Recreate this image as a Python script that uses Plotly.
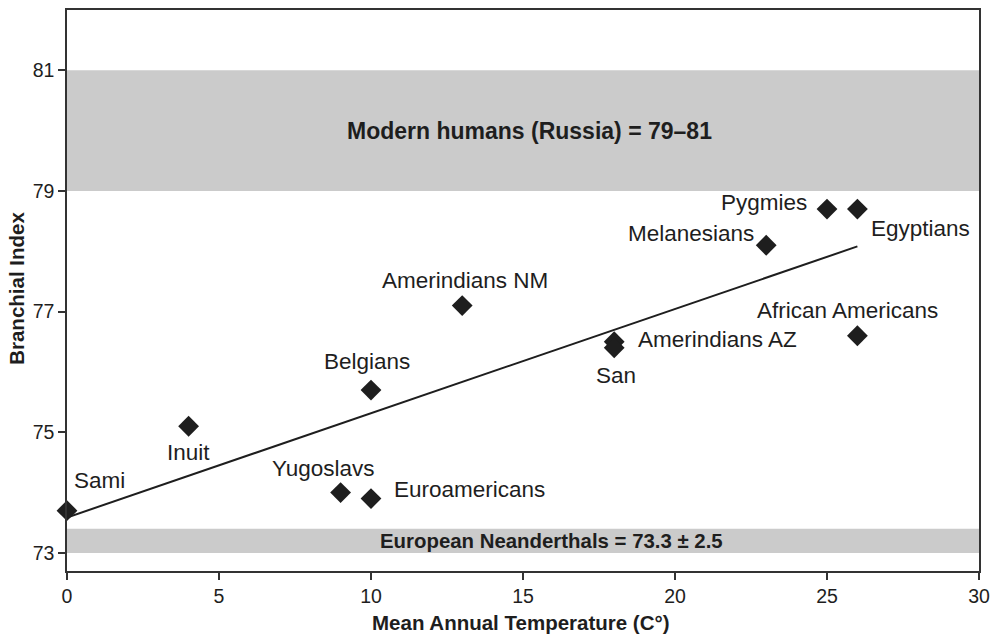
import numpy as np
import plotly.graph_objects as go

# ---- data ----
groups = ["Sami", "Inuit", "Yugoslavs", "Euroamericans", "Belgians", "Amerindians NM",
          "Amerindians AZ", "San", "Melanesians", "Pygmies", "Egyptians", "African Americans"]
temps = [0, 4, 9, 10, 10, 13, 18, 18, 23, 25, 26, 26]
branchial = [73.7, 75.1, 74.0, 73.9, 75.7, 77.1, 76.5, 76.4, 78.1, 78.7, 78.7, 76.6]

modern_band = [79, 81]
modern_text = "Modern humans (Russia) = 79–81"
neander_band = [73, 73.4]
neander_text = "European Neanderthals = 73.3 ± 2.5"

x_ticks = [0, 5, 10, 15, 20, 25, 30]
y_ticks = [73, 75, 77, 79, 81]
x_title = "Mean Annual Temperature (C°)"
y_title = "Branchial Index"

# label offsets in pixels (style only)
label_shift = {
    "Sami": (32, 30), "Inuit": (0, -26), "Yugoslavs": (-17, 24), "Euroamericans": (98, 9),
    "Belgians": (-4, 29), "Amerindians NM": (3, 25), "Amerindians AZ": (103, 2),
    "San": (2, -28), "Melanesians": (-75, 12), "Pygmies": (-63, 7),
    "Egyptians": (63, -19), "African Americans": (-10, 25),
}

FONT = "Liberation Sans, Arial, Helvetica, sans-serif"
INK = "#1e1e1e"

# regression line
slope, intercept = np.polyfit(temps, branchial, 1)
fit_x = np.array([min(temps), max(temps)])
fit_y = slope * fit_x + intercept

fig = go.Figure()
fig.add_trace(go.Scatter(x=fit_x, y=fit_y, mode="lines",
                         line=dict(color=INK, width=2), hoverinfo="skip", showlegend=False))
fig.add_trace(go.Scatter(x=temps, y=branchial, mode="markers",
                         marker=dict(symbol="diamond", size=16, color=INK),
                         text=groups, showlegend=False, cliponaxis=False))

shapes = []
for band in (modern_band, neander_band):
    shapes.append(dict(type="rect", xref="x", yref="y", x0=0, x1=30, y0=band[0], y1=band[1],
                       fillcolor="#cbcbcb", line=dict(width=0), layer="below"))

annotations = []
for g, xv, yv in zip(groups, temps, branchial):
    dx, dy = label_shift[g]
    annotations.append(dict(x=xv, y=yv, text=g, showarrow=False, xanchor="center",
                            yanchor="middle", xshift=dx, yshift=dy,
                            font=dict(family=FONT, size=22.5, color=INK)))
annotations.append(dict(x=15.2, y=sum(modern_band) / 2, text="<b>" + modern_text + "</b>",
                        showarrow=False, xanchor="center", yanchor="middle",
                        font=dict(family=FONT, size=23, color=INK)))
annotations.append(dict(x=15.95, y=sum(neander_band) / 2, text="<b>" + neander_text + "</b>",
                        showarrow=False, xanchor="center", yanchor="middle",
                        font=dict(family=FONT, size=20.4, color=INK)))
# axis titles
annotations.append(dict(xref="paper", yref="paper", x=0.498, y=0, xanchor="center",
                        yanchor="middle", yshift=-51, showarrow=False,
                        text="<b>" + x_title + "</b>",
                        font=dict(family=FONT, size=20.5, color=INK)))
annotations.append(dict(xref="paper", yref="paper", x=0, y=0.503, xanchor="center",
                        yanchor="middle", xshift=-50, textangle=-90, showarrow=False,
                        text="<b>" + y_title + "</b>",
                        font=dict(family=FONT, size=20.5, color=INK)))

axis_common = dict(showgrid=False, zeroline=False, showline=True, linecolor="#333333",
                   linewidth=1.5, mirror=True, ticks="outside", ticklen=7, tickwidth=1.5,
                   tickcolor="#333333", automargin=False,
                   tickfont=dict(family=FONT, size=19.5, color=INK))

fig.update_layout(
    width=995, height=634,
    margin=dict(l=67, r=16, t=10, b=63),
    paper_bgcolor="white", plot_bgcolor="white",
    shapes=shapes, annotations=annotations,
    xaxis=dict(range=[0, 30], tickvals=x_ticks, **axis_common),
    yaxis=dict(range=[72.7, 82], tickvals=y_ticks, **axis_common),
)

fig.write_html("out.html", config={"displayModeBar": False},
               post_script="document.body.style.margin='0';document.body.style.overflow='hidden';")
